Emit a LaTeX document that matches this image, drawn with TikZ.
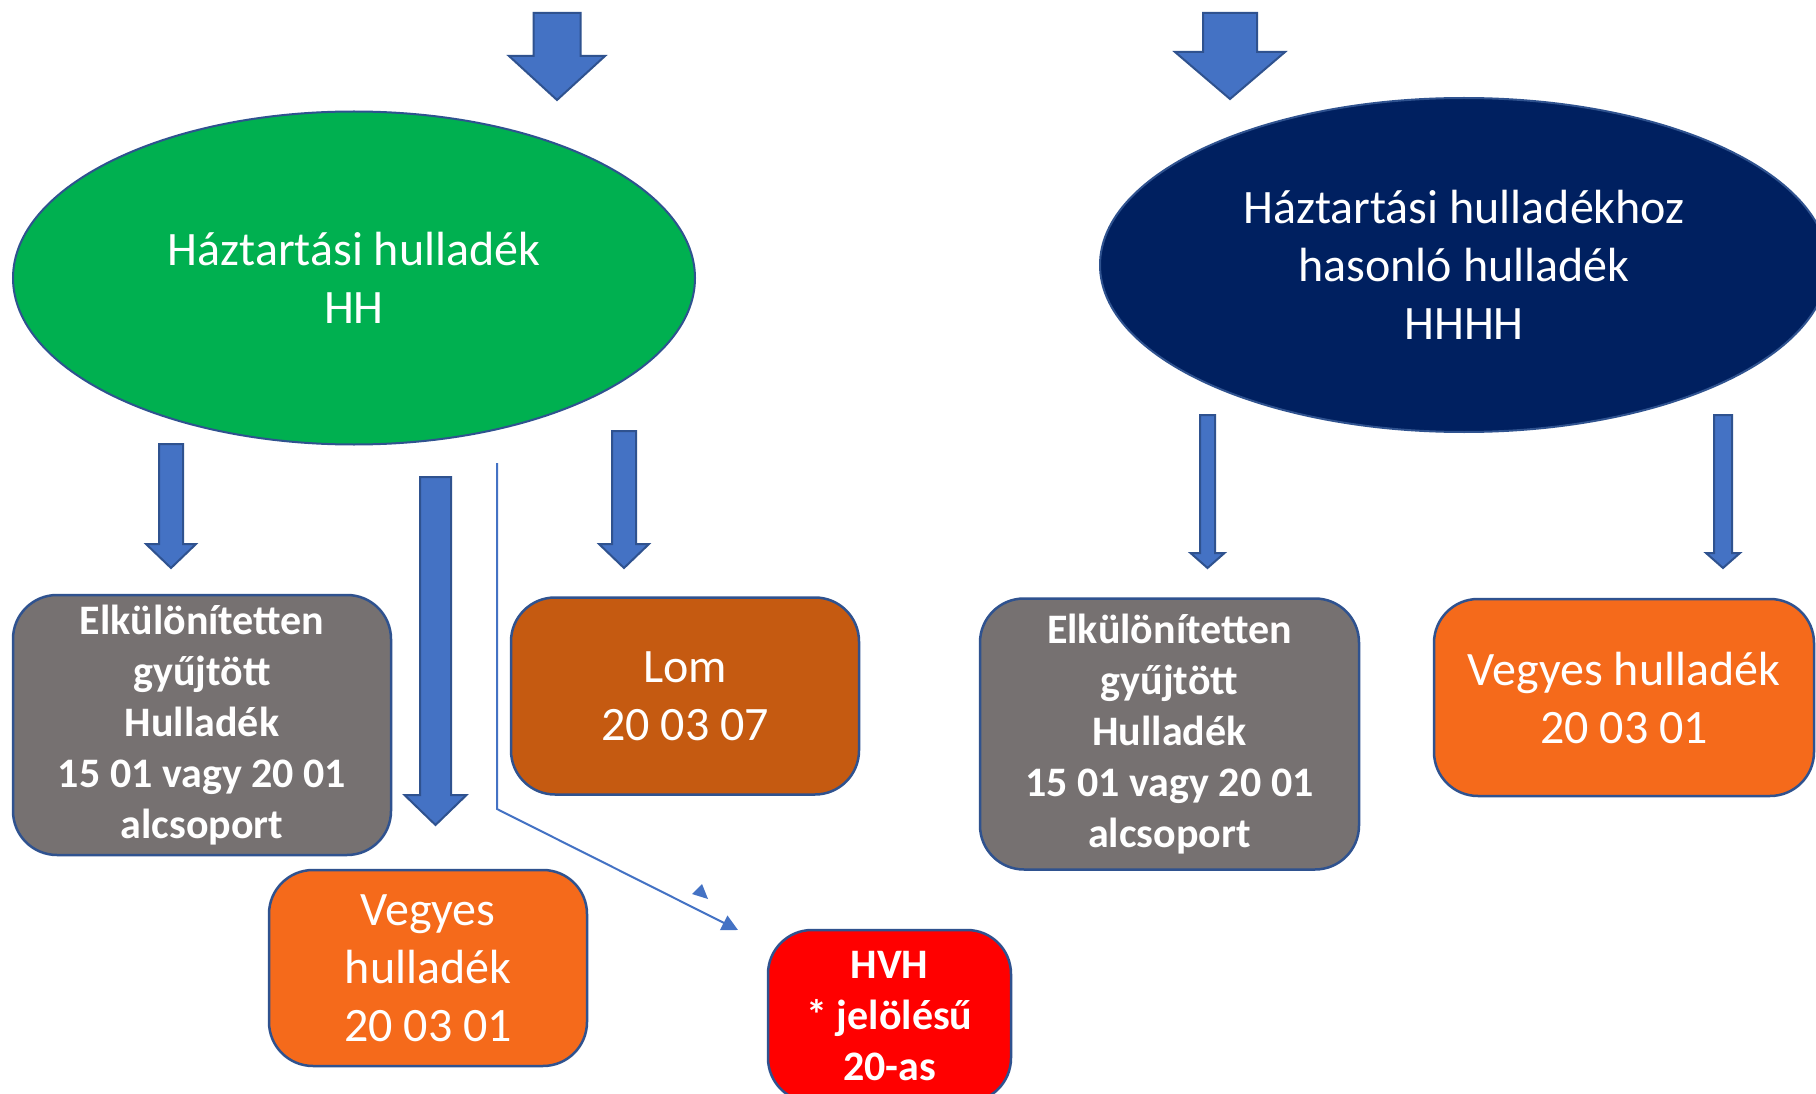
\documentclass[tikz,border=0pt]{standalone}
\usepackage{fontspec}
\setmainfont{Carlito}
\usetikzlibrary{shapes.geometric,arrows.meta}
\definecolor{hhgreen}{HTML}{00B050}
\definecolor{hhnavy}{HTML}{002060}
\definecolor{hhgrey}{HTML}{767171}
\definecolor{hhorange}{HTML}{F56A1B}
\definecolor{hhbrown}{HTML}{C55A11}
\definecolor{hhred}{HTML}{FF0000}
\definecolor{hhborder}{HTML}{2F528F}
\definecolor{hhblue}{HTML}{4472C4}
\newcommand\blkarrow[6]{%
  \draw[blockarrow] ({#1-#2},#4) -- ({#1+#2},#4) -- ({#1+#2},#5) -- ({#1+#3},#5)
    -- (#1,#6) -- ({#1-#3},#5) -- ({#1-#2},#5) -- cycle;}
\begin{document}
\begin{tikzpicture}[x=1pt,y=-1pt,
  blockarrow/.style={fill=hhblue,draw=hhborder,line width=2pt,line join=miter},
  oval/.style={ellipse,draw=hhborder,line width=2pt,inner sep=0pt,text=white,align=center,
    font=\fontsize{48}{58}\selectfont},
  roundbox/.style={rectangle,rounded corners=44pt,draw=hhborder,line width=2.5pt,inner sep=0pt,
    text=white,align=center},
  normaltext/.style={font=\fontsize{48}{58}\selectfont},
  boldtext/.style={font=\fontsize{42}{51}\selectfont\bfseries},
  thinline/.style={draw=hhblue,line width=2pt}]
\useasboundingbox[fill=white] (0,0) rectangle (1816,1094);

% top arrows
\blkarrow{557}{23.5}{48}{13}{56}{100}
\blkarrow{1230}{27}{55}{13}{52}{99}

% ellipses
\node[oval,fill=hhgreen,minimum width=682pt,minimum height=333pt] (hh) at (354,278)
  {Háztartási hulladék\\HH};
\node[oval,fill=hhnavy,minimum width=728pt,minimum height=334pt] (hhhh) at (1464,265)
  {Háztartási hulladékhoz\\hasonló hulladék\\HHHH};

% block arrows below
\blkarrow{171}{12}{25}{444}{544}{568}
\blkarrow{435.5}{15.5}{31}{477}{795}{825}
\blkarrow{624}{12}{25}{431}{544}{568}
\blkarrow{1207.5}{7.5}{17}{415}{553}{568}
\blkarrow{1723}{9}{17}{415}{553}{568}

% boxes
\node[roundbox,boldtext,fill=hhgrey,minimum width=378pt,minimum height=260pt] (sep1) at (202,725)
  {Elkülönítetten\\gyűjtött\\Hulladék\\15 01 vagy 20 01\\alcsoport};
\node[roundbox,normaltext,fill=hhorange,minimum width=318pt,minimum height=196pt] (mix1) at (428,968)
  {Vegyes\\hulladék\\20 03 01};
\node[roundbox,normaltext,fill=hhbrown,minimum width=348pt,minimum height=197pt] (lom) at (685,696)
  {Lom\\20 03 07};
\node[roundbox,boldtext,fill=hhred,minimum width=243pt,minimum height=172pt] (hvh) at (889.5,1016)
  {HVH\\* jelölésű\\20-as};
\node[roundbox,boldtext,fill=hhgrey,minimum width=379pt,minimum height=271pt] (sep2) at (1169.5,734)
  {Elkülönítetten\\gyűjtött\\Hulladék\\15 01 vagy 20 01\\alcsoport};
\node[roundbox,normaltext,fill=hhorange,minimum width=380pt,minimum height=197pt] (mix2) at (1624,697.5)
  {Vegyes hulladék\\20 03 01};

% thin connector
\coordinate (ts) at (497,463);
\coordinate (tb) at (497,809);
\coordinate (te) at (738,930);
\draw[thinline,-{Triangle[length=16pt,width=16pt]}] (ts) -- (tb) -- (te);
\fill[hhblue] (702,884) -- (692,894) -- (708,899) -- cycle;
\end{tikzpicture}
\end{document}
